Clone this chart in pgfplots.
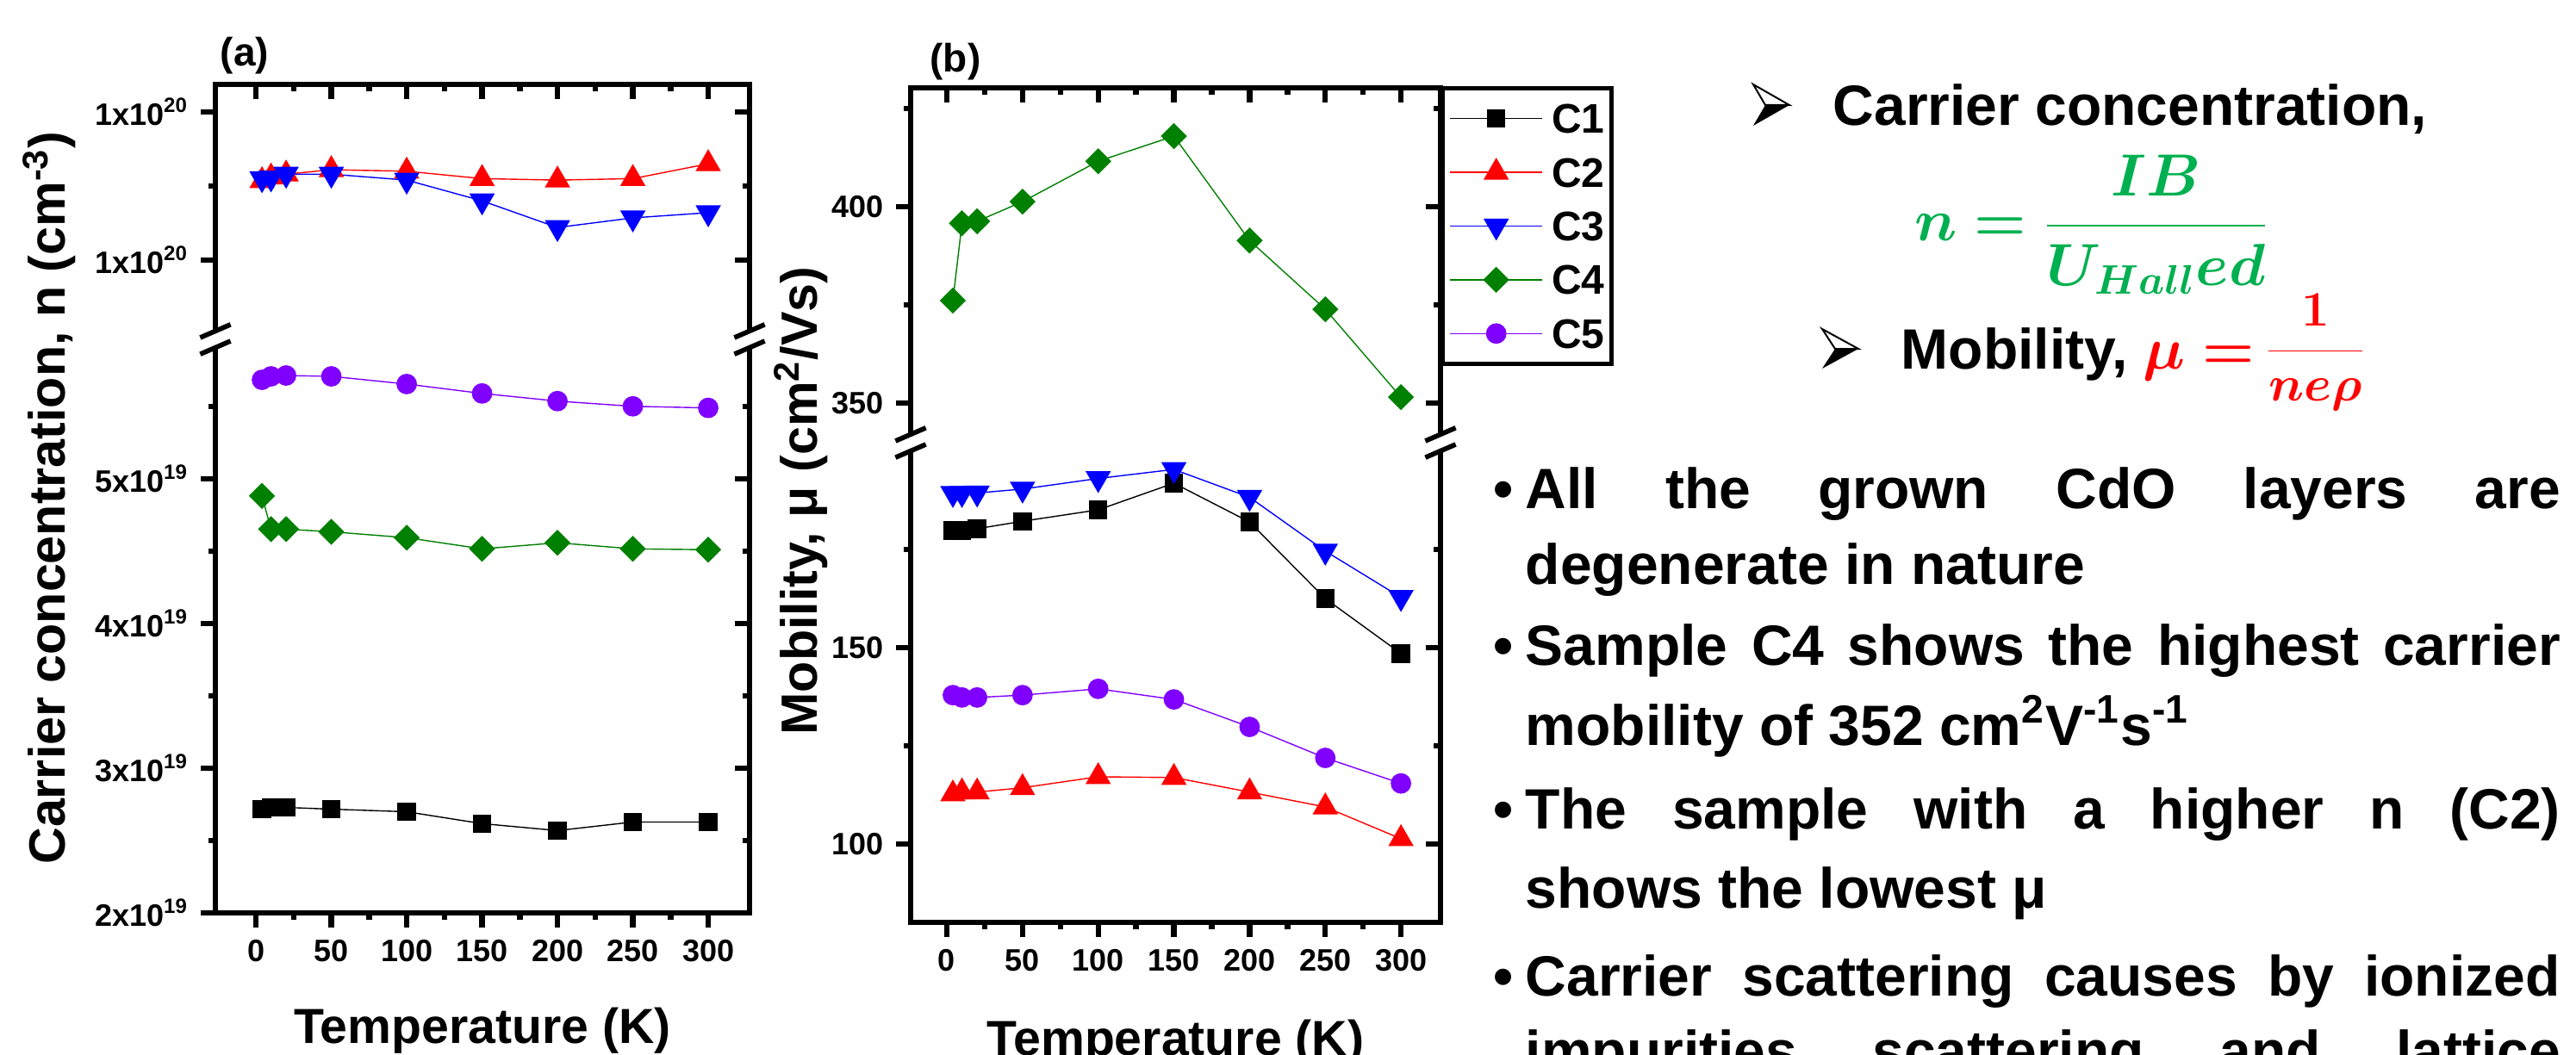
\documentclass[border=0pt]{standalone}
\usepackage{fontspec}
\setmainfont{Liberation Sans}
\usepackage{bm}
\usepackage{pgfplots}
\pgfplotsset{compat=1.18}

\definecolor{cfour}{HTML}{008000}
\definecolor{cfive}{HTML}{8000FF}
\definecolor{eqgreen}{HTML}{00B050}

\pgfplotsset{
  frame/.style={scale only axis, anchor=south west, clip=false,
    axis line style={line width=1.6pt, line cap=rect},
    tick style={line width=1.6pt, black},
    major tick length=4.25pt, minor tick length=2.1pt,
    tick label style={font=\bfseries\fontsize{9}{10}\selectfont},
    /pgf/number format/assume math mode=true},
  main/.style={frame, tick align=outside},
  mirror/.style={frame, tick align=inside, xticklabels={}, yticklabels={}},
  pa/.style={width=155pt, xmin=-26.9, xmax=327.4,
    xtick={0,50,...,300}, minor xtick={25,75,...,275}},
  paL/.style={pa, at={(62.5pt,41pt)}, height=166.75pt, ymin=2, ymax=5.97,
    ytick={2,3,4,5}, minor ytick={2.5,3.5,4.5,5.5}},
  paU/.style={pa, at={(62.5pt,207.75pt)}, height=73.75pt, ymin=9.471, ymax=11.186,
    ytick={10,11}, minor ytick={10.5}},
  pb/.style={width=153.75pt, xmin=-23.9, xmax=326.1,
    xtick={0,50,...,300}, minor xtick={25,75,...,275}},
  pbL/.style={pb, at={(264.25pt,38.25pt)}, height=139pt, ymin=80, ymax=202,
    ytick={100,150}, minor ytick={125,175}},
  pbU/.style={pb, at={(264.25pt,177.25pt)}, height=103.25pt, ymin=339.7, ymax=430.3,
    ytick={350,400}, minor ytick={375,425}},
  s1/.style={black, line width=0.35pt, mark=square*, mark size=2.5pt},
  s2/.style={red, line width=0.35pt, mark=triangle*, mark size=3.9pt},
  s3/.style={blue, line width=0.35pt, mark=triangle*, mark size=3.9pt, mark options={rotate=180}},
  s4/.style={cfour, line width=0.35pt, mark=square*, mark size=2.5pt, mark options={rotate=45}},
  s5/.style={cfive, line width=0.35pt, mark=*, mark size=2.8pt},
}

\newcommand{\brk}[2]{\begin{scope}[shift={(#1pt,#2pt)}]
  \fill[white] (-3,-3.7) -- (3,-1.1) -- (3,3.7) -- (-3,1.1) -- cycle;
  \draw[line width=1.4pt] (-4.4,-4.3) -- (4.4,-0.5);
  \draw[line width=1.4pt] (-4.4,0.5) -- (4.4,4.3);
\end{scope}}

\begin{document}
\begin{tikzpicture}[x=1pt,y=1pt]
\useasboundingbox (0,0) rectangle (747.5,306);

% ---------- panel (a), lower part
\begin{axis}[main, paL, axis x line*=bottom, axis y line*=left,
  yticklabels={2x10\textsuperscript{19},3x10\textsuperscript{19},4x10\textsuperscript{19},5x10\textsuperscript{19}}]
  \addplot[s1] coordinates {(4,2.717) (10,2.729) (20,2.729) (50,2.717) (100,2.699) (150,2.617) (200,2.569) (250,2.628) (300,2.628)};
  \addplot[s4] coordinates {(4,4.882) (10,4.652) (20,4.652) (50,4.634) (100,4.593) (150,4.516) (200,4.558) (250,4.516) (300,4.510)};
  \addplot[s5] coordinates {(4,5.684) (10,5.708) (20,5.714) (50,5.708) (100,5.655) (150,5.590) (200,5.537) (250,5.501) (300,5.490)};
\end{axis}
\begin{axis}[mirror, paL, axis x line=none, axis y line*=right]
\end{axis}
% ---------- panel (a), upper part
\begin{axis}[main, paU, axis x line=none, axis y line*=left,
  yticklabels={1x10\textsuperscript{20},1x10\textsuperscript{20}}]
  \addplot[s2] coordinates {(4,10.535) (10,10.56) (20,10.58) (50,10.61) (100,10.60) (150,10.55) (200,10.54) (250,10.55) (300,10.65)};
  \addplot[s3] coordinates {(4,10.55) (10,10.555) (20,10.58) (50,10.58) (100,10.54) (150,10.40) (200,10.22) (250,10.285) (300,10.32)};
\end{axis}
\begin{axis}[mirror, paU, axis x line*=top, axis y line*=right]
\end{axis}

% ---------- panel (b), lower part
\begin{axis}[main, pbL, axis x line*=bottom, axis y line*=left]
  \addplot[s1] coordinates {(4,179.8) (10,179.8) (20,180.3) (50,182.2) (100,185.1) (150,191.9) (200,182.0) (250,162.5) (300,148.5)};
  \addplot[s2] coordinates {(4,112.7) (10,113.2) (20,113.2) (50,114.3) (100,117.1) (150,116.9) (200,113.2) (250,109.4) (300,101.3)};
  \addplot[s3] coordinates {(4,189.3) (10,189.3) (20,189.4) (50,190.4) (100,193.1) (150,195.4) (200,188.3) (250,174.6) (300,162.8)};
  \addplot[s5] coordinates {(4,137.9) (10,137.3) (20,137.3) (50,137.9) (100,139.5) (150,136.8) (200,129.8) (250,121.9) (300,115.4)};
\end{axis}
\begin{axis}[mirror, pbL, axis x line=none, axis y line*=right]
\end{axis}
% ---------- panel (b), upper part with legend
\begin{axis}[main, pbU, axis x line=none, axis y line*=left,
  legend style={at={(1,1)}, anchor=north west, yshift=0.5pt, draw=black, line width=1.25pt,
    fill=white, inner xsep=2pt, inner ysep=1pt, row sep=0pt,
    font=\bfseries\fontsize{12}{13}\selectfont,
    nodes={inner sep=0pt, text height=8.5pt, text depth=0pt, minimum height=15.6pt}},
  legend cell align=left,
  legend image code/.code={\path[draw=none, fill=none] (0pt,-4pt) rectangle (29.5pt,4pt);
    \draw[mark repeat=2, mark phase=2, #1] plot coordinates {(0pt,0pt) (13.375pt,0pt) (26.75pt,0pt)};}]
  \addlegendimage{s1}
  \addlegendimage{s2}
  \addlegendimage{s3}
  \addlegendimage{s4}
  \addlegendimage{s5}
  \addplot[s4, forget plot] coordinates {(4,376.1) (10,395.8) (20,396.3) (50,401.3) (100,411.6) (150,418.0) (200,391.4) (250,373.9) (300,351.5)};
  \legend{C1,C2,C3,C4,C5}
\end{axis}
\begin{axis}[mirror, pbU, axis x line*=top, axis y line*=right]
\end{axis}

% axis breaks
\brk{62.5}{207.5}
\brk{217.5}{207.5}
\brk{264.25}{177.5}
\brk{418}{177.5}

% titles and panel labels
\begin{scope}[font=\bfseries\fontsize{14.8}{15}\selectfont]
  \node[rotate=90, anchor=base, inner sep=0pt] at (19pt,161.5pt) {Carrier concentration, n (cm\textsuperscript{-3})};
  \node[rotate=90, anchor=base, inner sep=0pt] at (237pt,160.6pt) {Mobility, μ (cm\textsuperscript{2}/Vs)};
\end{scope}
\begin{scope}[font=\bfseries\fontsize{14.3}{15}\selectfont]
  \node[anchor=base, inner sep=0pt] at (140pt,3.25pt) {Temperature (K)};
  \node[anchor=base, inner sep=0pt] at (341.1pt,-0.25pt) {Temperature (K)};
\end{scope}
\node[font=\bfseries\fontsize{11.5}{12}\selectfont] at (71pt,289.75pt) {(a)};
\node[font=\bfseries\fontsize{11.5}{12}\selectfont] at (277.25pt,288pt) {(b)};

% right-hand text
\begin{scope}[font=\bfseries\fontsize{16.5}{20}\selectfont]
  \filldraw[fill=white, draw=black, line width=0.5pt] (508.75,281.5) -- (519.25,275.5) -- (512.25,275.5) -- cycle;
  \fill[black] (512.25,275.5) -- (519.25,275.5) -- (508.75,269.5) -- cycle;
  \filldraw[fill=white, draw=black, line width=0.5pt] (528.75,210.5) -- (539.25,204.75) -- (532.5,204.75) -- cycle;
  \fill[black] (532.5,204.75) -- (539.25,204.75) -- (528.75,199) -- cycle;
  \node[anchor=base west, inner sep=0pt] at (531.75pt,269.5pt) {Carrier concentration,};
  \node[anchor=base west, inner sep=0pt, text=eqgreen] at (555.5pt,236.25pt)
    {\fontsize{18}{20}\selectfont$\displaystyle\bm{n=\frac{IB}{U_{Hall}ed}}$};
  \node[anchor=base west, inner sep=0pt] at (551.5pt,199pt)
    {Mobility, \textcolor{red}{\fontsize{18}{20}\selectfont$\bm{\mu=}$\,\raisebox{1.5pt}{\fontsize{14.5}{15}\selectfont$\displaystyle\bm{\frac{1}{ne\rho}}$}}};
  \foreach \yy in {158.5,113,65.5,17} {\node[anchor=base, inner sep=0pt] at (436.25pt,\yy pt) {\textbullet};}
  \node[anchor=base west, inner sep=0pt] at (442.5pt,158.5pt) {\makebox[300.25pt][s]{All the grown CdO layers are}};
  \node[anchor=base west, inner sep=0pt] at (442.5pt,136.5pt) {degenerate in nature};
  \node[anchor=base west, inner sep=0pt] at (442.5pt,113pt) {\makebox[300.25pt][s]{Sample C4 shows the highest carrier}};
  \node[anchor=base west, inner sep=0pt] at (442.5pt,89.75pt) {mobility of 352 cm\textsuperscript{2}V\textsuperscript{-1}s\textsuperscript{-1}};
  \node[anchor=base west, inner sep=0pt] at (442.5pt,65.5pt) {\makebox[300.25pt][s]{The sample with a higher n (C2)}};
  \node[anchor=base west, inner sep=0pt] at (442.5pt,42.5pt) {shows the lowest μ};
  \node[anchor=base west, inner sep=0pt] at (442.5pt,17pt) {\makebox[300.25pt][s]{Carrier scattering causes by ionized}};
  \node[anchor=base west, inner sep=0pt] at (442.5pt,-4.75pt) {\makebox[300.25pt][s]{impurities scattering and lattice}};
\end{scope}
\end{tikzpicture}
\end{document}
